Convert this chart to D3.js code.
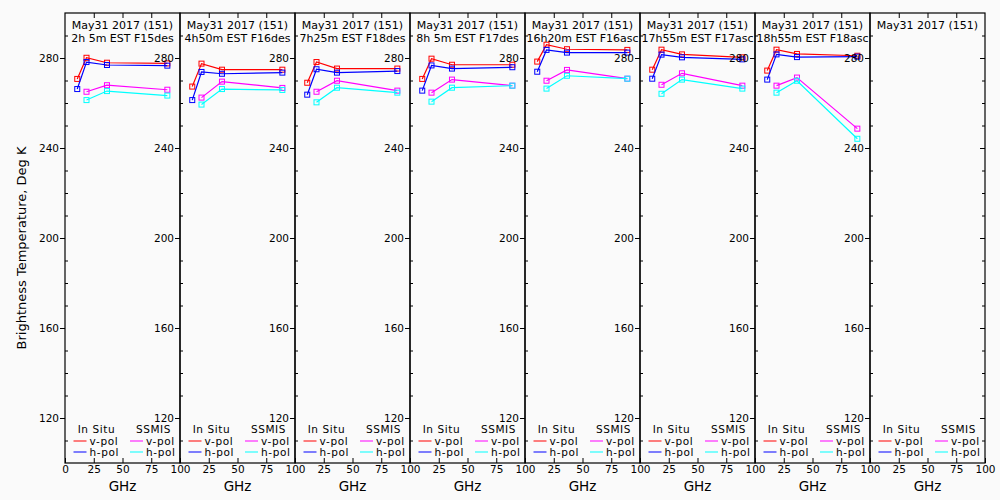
<!DOCTYPE html>
<html>
<head>
<meta charset="utf-8">
<script src="https://cdn.jsdelivr.net/npm/d3@7"></script>
<style>
  body { margin: 0; background: #fafafa; }
  text { font-family: "DejaVu Sans", sans-serif; fill: #000; }
</style>
</head>
<body>
<div class="chart"></div>
<script>
// header of every panel
const dateLabel = "May31 2017 (151)";
const times = ["2h 5m", "4h50m", "7h25m", "8h 5m", "16h20m", "17h55m", "18h55m", ""];
const passes = ["F15des", "F16des", "F18des", "F17des", "F16asc", "F17asc", "F18asc", ""];

// channel frequencies, GHz
const insituFreq = [10.65, 18.7, 36.5, 89];
const ssmisFreq = [18.7, 36.5, 89];

// brightness temperatures, K (one row per panel)
const insituV = [
	[270.7, 280.1, 277.9, 277.6],
	[267.3, 277.5, 274.8, 274.8],
	[269.0, 278.2, 275.3, 275.3],
	[270.7, 279.7, 277.0, 277.0],
	[278.4, 285.9, 283.9, 283.6],
	[274.8, 283.7, 281.6, 280.3],
	[274.4, 283.7, 281.8, 281.0],
	[]
];
const insituH = [
	[266.2, 278.2, 276.9, 276.6],
	[261.3, 273.8, 273.0, 273.5],
	[263.7, 275.0, 273.5, 274.2],
	[265.5, 276.7, 275.3, 275.9],
	[273.9, 283.6, 282.4, 282.4],
	[270.8, 281.5, 280.3, 279.4],
	[270.4, 281.6, 280.4, 280.6],
	[]
];
const ssmisV = [
	[265.0, 267.9, 265.9],
	[262.4, 269.5, 266.7],
	[265.0, 269.9, 265.5],
	[264.6, 270.4, 267.7],
	[269.9, 274.7, 270.8],
	[268.1, 273.2, 267.7],
	[267.7, 271.3, 248.6],
	[]
];
const ssmisH = [
	[261.3, 265.3, 263.3],
	[259.3, 266.2, 265.8],
	[260.3, 266.8, 264.6],
	[260.6, 266.8, 267.7],
	[266.4, 272.1, 270.8],
	[264.1, 270.4, 266.4],
	[264.6, 269.9, 244.1],
	[]
];

const majorTicks = [120, 160, 200, 240, 280];
const minorTicks = [110, 130, 140, 150, 170, 180, 190, 210, 220, 230, 250, 260, 270, 290];
const xTicks = [0, 25, 50, 75, 100];

const width = 1000;
const height = 500;
const plotLeft = 65, panelW = 115, plotTop = 13, plotBottom = 463;
const nPanels = times.length;

const svg = d3.select('.chart')
	.append('svg')
	.attr('width', width)
	.attr('height', height)

const y = d3.scaleLinear().domain([100, 300]).range([plotBottom, plotTop]);

svg.append("text")
	.attr("transform", `translate(26,${(plotTop + plotBottom) / 2 + 10}) rotate(-90)`)
	.attr("text-anchor", "middle")
	.attr("font-size", "13px")
	.text("Brightness Temperature, Deg K")

const seriesList = [
	{ freq: insituFreq, vals: insituV, color: "#ff0000" },
	{ freq: insituFreq, vals: insituH, color: "#0000ff" },
	{ freq: ssmisFreq, vals: ssmisV, color: "#ff00ff" },
	{ freq: ssmisFreq, vals: ssmisH, color: "#00ffff" }
];

for (let p = 0; p < nPanels; p++) {
	const x0 = plotLeft + p * panelW;
	const x = d3.scaleLinear().domain([0, 100]).range([x0, x0 + panelW]);
	const g = svg.append("g");

	// frame
	g.append("rect")
		.attr("x", x0).attr("y", plotTop)
		.attr("width", panelW).attr("height", plotBottom - plotTop)
		.attr("fill", "none").attr("stroke", "#000").attr("stroke-width", 1.2)

	// left axis: labelled major ticks, minor ticks inward
	const yAx = g.append("g").attr("transform", `translate(${x0},0)`)
		.call(d3.axisLeft(y).tickValues(majorTicks).tickSize(5).tickPadding(1))
	yAx.select(".domain").remove()
	yAx.selectAll("text").attr("font-size", "10.5px").style("font-family", '"DejaVu Sans", sans-serif')

	const yMin = g.append("g").attr("transform", `translate(${x0},0)`)
		.call(d3.axisRight(y).tickValues(minorTicks).tickSize(3).tickFormat(""))
	yMin.select(".domain").remove()

	// x axis
	const xAx = g.append("g").attr("transform", `translate(0,${plotBottom})`)
		.call(d3.axisBottom(x)
			.tickValues(p === 0 ? xTicks : xTicks.slice(1))
			.tickSize(-5).tickPadding(3))
	xAx.select(".domain").remove()
	xAx.selectAll("text").attr("font-size", "10.5px").style("font-family", '"DejaVu Sans", sans-serif')

	const xTop = g.append("g").attr("transform", `translate(0,${plotTop})`)
		.call(d3.axisTop(x).tickValues([25, 50, 75]).tickSize(-5).tickFormat(""))
	xTop.select(".domain").remove()

	g.append("text")
		.attr("x", x0 + panelW / 2).attr("y", 491)
		.attr("text-anchor", "middle")
		.attr("font-size", "13.5px")
		.text("GHz")

	// header
	g.append("text")
		.attr("x", x0 + panelW / 2).attr("y", 29)
		.attr("text-anchor", "middle")
		.attr("font-size", "11px")
		.text(dateLabel)
	if (times[p] !== "") {
		g.append("text")
			.attr("x", x0 + panelW / 2).attr("y", 42)
			.attr("text-anchor", "middle")
			.attr("font-size", "11px")
			.style("white-space", "pre")
			.text(`${times[p]} EST ${passes[p]}`)
	}

	// data
	seriesList.forEach(function(s) {
		const pts = s.vals[p].map(function(v, i) { return [s.freq[i], v]; });
		if (pts.length === 0) return;
		g.append("path")
			.datum(pts)
			.attr("fill", "none")
			.attr("stroke", s.color)
			.attr("stroke-width", 1.2)
			.attr("d", d3.line().x(d => x(d[0])).y(d => y(d[1])))
		g.selectAll(null)
			.data(pts)
			.enter()
			.append("rect")
			.attr("x", d => x(d[0]) - 2.5)
			.attr("y", d => y(d[1]) - 2.5)
			.attr("width", 5).attr("height", 5)
			.attr("fill", "none")
			.attr("stroke", s.color)
			.attr("stroke-width", 1)
	})

	// legend
	const lg = g.append("g").attr("font-size", "10.5px").attr("letter-spacing", "0.6px");
	lg.append("text").attr("x", x0 + 31.5).attr("y", 433).attr("text-anchor", "middle").text("In Situ")
	lg.append("text").attr("x", x0 + 88.5).attr("y", 433).attr("text-anchor", "middle").text("SSMIS")
	const rows = [
		{ dx: 8.5, dy: 441, color: "#ff0000", label: "v-pol" },
		{ dx: 8.5, dy: 452, color: "#0000ff", label: "h-pol" },
		{ dx: 65, dy: 441, color: "#ff00ff", label: "v-pol" },
		{ dx: 65, dy: 452, color: "#00ffff", label: "h-pol" }
	];
	rows.forEach(function(r) {
		lg.append("line")
			.attr("x1", x0 + r.dx).attr("x2", x0 + r.dx + 13)
			.attr("y1", r.dy).attr("y2", r.dy)
			.attr("stroke", r.color).attr("stroke-width", 1)
		lg.append("text")
			.attr("x", x0 + r.dx + 16).attr("y", r.dy + 3.5)
			.text(r.label)
	})
}

// right-most axis
const yEnd = svg.append("g").attr("transform", `translate(${plotLeft + nPanels * panelW},0)`)
	.call(d3.axisLeft(y).tickValues(majorTicks).tickSize(5).tickFormat(""))
yEnd.select(".domain").remove()
const yEndMin = svg.append("g").attr("transform", `translate(${plotLeft + nPanels * panelW},0)`)
	.call(d3.axisLeft(y).tickValues(minorTicks).tickSize(3).tickFormat(""))
yEndMin.select(".domain").remove()
</script>
</body>
</html>
